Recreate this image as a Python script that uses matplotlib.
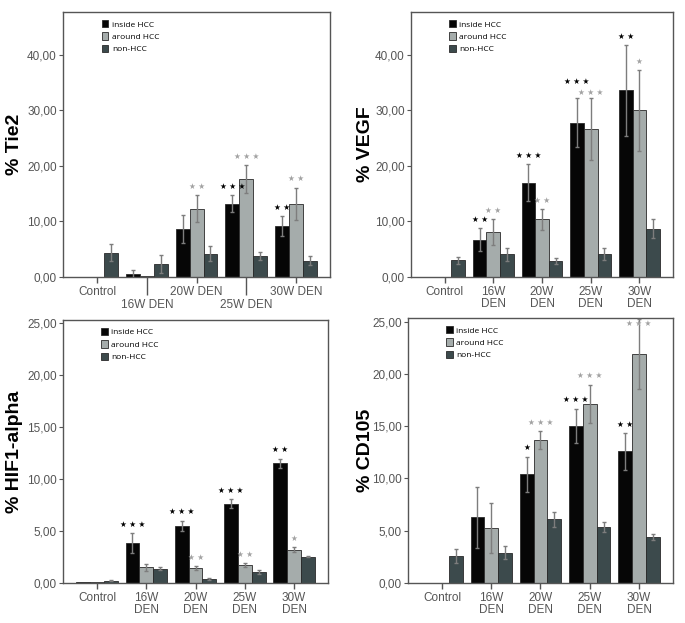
import matplotlib
matplotlib.use("Agg")
from matplotlib import pyplot as plt
import numpy as np

groups_wide = ["Control", "\n16W DEN", "20W DEN", "\n25W DEN", "30W DEN"]
groups = ["Control", "16W\nDEN", "20W\nDEN", "25W\nDEN", "30W\nDEN"]
series = ["inside HCC", "around HCC", "non-HCC"]

# Tie2
tie2_inside = [0.0, 0.6, 8.7, 13.2, 9.1]
tie2_inside_err = [0.0, 0.7, 2.5, 1.5, 1.8]
tie2_around = [0.0, 0.25, 12.3, 17.6, 13.2]
tie2_around_err = [0.0, 0.0, 2.4, 2.5, 2.9]
tie2_non = [4.4, 2.3, 4.2, 3.8, 2.9]
tie2_non_err = [1.6, 1.6, 1.4, 0.7, 0.8]
tie2_inside_stars = [0, 0, 0, 3, 2]
tie2_around_stars = [0, 0, 2, 3, 2]

# VEGF
vegf_inside = [0.0, 6.7, 17.0, 27.8, 33.6]
vegf_inside_err = [0.0, 2.1, 3.3, 4.4, 8.2]
vegf_around = [0.0, 8.1, 10.4, 26.6, 30.0]
vegf_around_err = [0.0, 2.4, 1.9, 5.6, 7.3]
vegf_non = [3.0, 4.1, 2.9, 4.2, 8.7]
vegf_non_err = [0.6, 1.2, 0.6, 1.1, 1.7]
vegf_inside_stars = [0, 2, 3, 3, 2]
vegf_around_stars = [0, 2, 2, 3, 1]

# HIF1-alpha
hif_inside = [0.05, 3.87, 5.5, 7.62, 11.5]
hif_inside_err = [0.0, 0.96, 0.5, 0.4, 0.45]
hif_around = [0.05, 1.5, 1.44, 1.7, 3.2]
hif_around_err = [0.0, 0.3, 0.15, 0.2, 0.25]
hif_non = [0.22, 1.38, 0.38, 1.02, 2.53]
hif_non_err = [0.05, 0.15, 0.1, 0.2, 0.07]
hif_inside_stars = [0, 3, 3, 3, 2]
hif_around_stars = [0, 0, 2, 2, 1]

# CD105
cd105_inside = [0.03, 6.27, 10.4, 15.05, 12.58]
cd105_inside_err = [0.0, 2.9, 1.7, 1.63, 1.76]
cd105_around = [0.03, 5.25, 13.67, 17.13, 21.93]
cd105_around_err = [0.0, 2.4, 0.9, 1.85, 3.35]
cd105_non = [2.6, 2.9, 6.08, 5.38, 4.42]
cd105_non_err = [0.7, 0.6, 0.7, 0.5, 0.3]
cd105_inside_stars = [0, 0, 1, 3, 2]
cd105_around_stars = [0, 0, 3, 3, 3]

colors = ["#060606", "#a5acab", "#3c4a4c"]
star_colors = ["#000000", "#a2a2a2"]
tick_color = "#555555"
font = "Liberation Sans"

fig = plt.figure(figsize=(6.85, 6.23), dpi=100)

panels = [
    ([0.092, 0.5554, 0.390, 0.4253], "% Tie2", 47.7, [0, 10, 20, 30, 40],
     [tie2_inside, tie2_around, tie2_non], [tie2_inside_err, tie2_around_err, tie2_non_err],
     [tie2_inside_stars, tie2_around_stars], groups_wide, -0.15),
    ([0.600, 0.5554, 0.3825, 0.4253], "% VEGF", 47.7, [0, 10, 20, 30, 40],
     [vegf_inside, vegf_around, vegf_non], [vegf_inside_err, vegf_around_err, vegf_non_err],
     [vegf_inside_stars, vegf_around_stars], groups, -0.14),
    ([0.092, 0.0642, 0.387, 0.4222], "% HIF1-alpha", 25.25, [0, 5, 10, 15, 20, 25],
     [hif_inside, hif_around, hif_non], [hif_inside_err, hif_around_err, hif_non_err],
     [hif_inside_stars, hif_around_stars], groups, -0.15),
    ([0.5956, 0.0642, 0.3869, 0.4254], "% CD105", 25.35, [0, 5, 10, 15, 20, 25],
     [cd105_inside, cd105_around, cd105_non], [cd105_inside_err, cd105_around_err, cd105_non_err],
     [cd105_inside_stars, cd105_around_stars], groups, -0.13),
]

x = np.arange(len(groups))
w = 0.28

for rect, ylabel, ymax, yticks, vals, errs, stars, xlabels, lab_x in panels:
    ax = fig.add_axes(rect)
    for i in range(3):
        ax.bar(x + (i - 1) * w, vals[i], w, color=colors[i], edgecolor="#2a2a2a",
               linewidth=0.6, label=series[i], zorder=2)
        e = np.array(errs[i])
        mask = e > 0
        ax.errorbar((x + (i - 1) * w)[mask], np.array(vals[i])[mask], yerr=e[mask],
                    fmt="none", ecolor="#7d7d7d", elinewidth=1.0, capsize=1.6,
                    capthick=1.0, zorder=3)
    ax.set_xlim(-0.69, 4.69)
    ax.set_ylim(0, ymax)
    for j in range(len(x)):
        tops = [vals[i][j] + errs[i][j] for i in range(2)]
        close = stars[0][j] and stars[1][j] and abs(tops[0] - tops[1]) < 0.03 * ymax
        for i in range(2):
            n = stars[i][j]
            if not n:
                continue
            s = " ".join(["★"] * n)
            dy = 3
            if close:
                dy = 9 if i == 0 else 0.5
            if tops[i] > ymax * 0.97:
                ax.annotate(s, xy=(x[j] + (i - 1) * w, ymax), xytext=(0, -0.5),
                            textcoords="offset points", ha="center", va="top",
                            fontsize=5.5, color=star_colors[i], family="DejaVu Sans",
                            zorder=5)
            else:
                ax.annotate(s, xy=(x[j] + (i - 1) * w, tops[i]), xytext=(0, dy),
                            textcoords="offset points", ha="center", va="bottom",
                            fontsize=5.5, color=star_colors[i], family="DejaVu Sans",
                            zorder=5)
    ax.set_yticks(yticks)
    ax.set_yticklabels([f"{v:.2f}".replace(".", ",") for v in yticks],
                       fontsize=8.5, color=tick_color, family=font)
    ax.set_xticks(x)
    ax.set_xticklabels(xlabels, fontsize=8.5, color=tick_color, family=font,
                       linespacing=1.15 if xlabels is groups_wide else 0.95)
    ax.tick_params(axis="x", length=4.5, width=1.0, color="#555555", pad=2)
    ax.tick_params(axis="y", length=3, width=0.8, color="#555555", pad=1.5)
    if xlabels is groups_wide:
        ticks = ax.xaxis.get_major_ticks()
        ticks[1].tick1line.set_markersize(13)
        ticks[3].tick1line.set_markersize(13)
    for sp in ax.spines.values():
        sp.set_color("#555555")
        sp.set_linewidth(1.0)
    ax.set_ylabel(ylabel, fontsize=14, fontweight="bold", family=font)
    ax.yaxis.set_label_coords(lab_x, 0.5)
    ax.legend(loc="upper left", bbox_to_anchor=(0.145, 0.97), frameon=False,
              handlelength=0.8, handleheight=1.0, handletextpad=0.4,
              labelspacing=0.45, borderpad=0, borderaxespad=0,
              prop={"family": "Open Sans", "size": 6})

fig.savefig("out.png", dpi=100)
